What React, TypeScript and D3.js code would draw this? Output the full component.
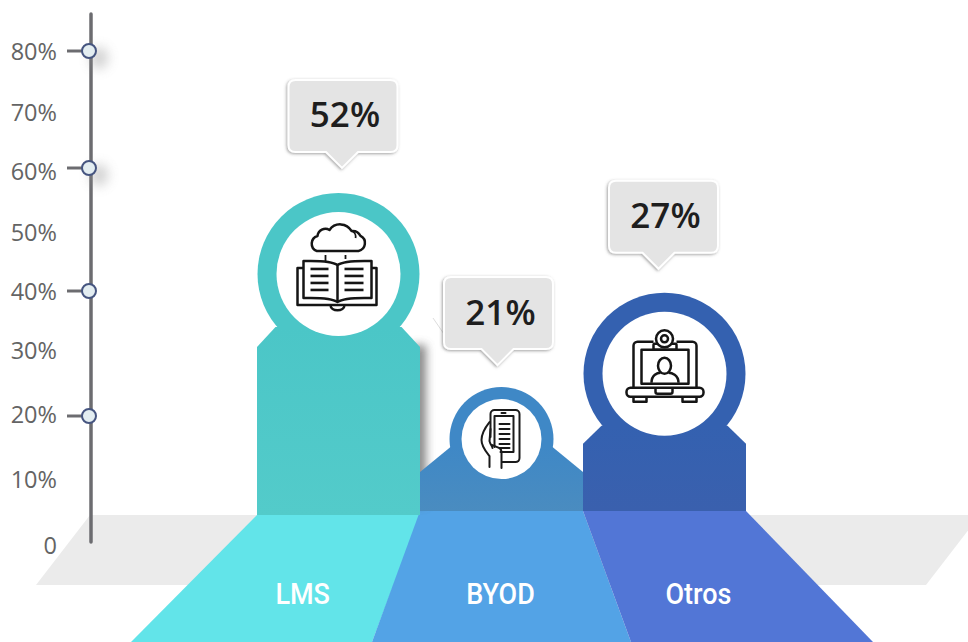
import React from "react";
import { scaleBand, scaleLinear, line as d3_line } from "d3";

const categories = ["LMS", "BYOD", "Otros"];
const percentages = [52, 21, 27];
// the drawn columns do not follow the printed %, so their tops are read off the axis
const columnTops = [56.4, 24.2, 39.7];
const axisTicks = [0, 10, 20, 30, 40, 50, 60, 70, 80];
const knobTicks = [20, 40, 60, 80];

const ringColors = ["#4bc6c7", "#3f88c6", "#3461b0"];
const bodyColors = ["#53cbca", "#4a8cc0", "#3a60ae"];
const floorColors = ["#62e4e9", "#53a3e6", "#5276d6"];

const W = 968;
const H = 642;
const floorTop = 515;

// the axis in the picture is slightly uneven, hence the piecewise range
const y = scaleLinear()
  .domain(axisTicks)
  .range([545, 479, 414, 350, 291, 232, 171, 112, 51]);
const x = scaleBand().domain(categories).range([257, 746]).padding(0);
// spread of the column edges once they reach the bottom of the page
const spread = scaleLinear().domain([257, 420, 583, 746]).range([131, 372, 631, 873]);

const ringR = { LMS: 81, BYOD: 52, Otros: 81 };
const innerR = { LMS: 62, BYOD: 40, Otros: 62 };
const shoulder = { LMS: { dy: 73, nx: 63, ny: 53 }, BYOD: { dy: 33, nx: 51, ny: 8 }, Otros: { dy: 70, nx: 63, ny: 52 } };
const bubbleNudge = { LMS: 4.5, BYOD: -3, Otros: -1 };
const bubbleGap = { LMS: 41, BYOD: 38, Otros: 40 };
const tipNudge = { LMS: -1, BYOD: -1, Otros: -5 };
const knobNudge = { 20: 2, 40: 0, 60: -3, 80: 0 };

const line = d3_line();

function BookIcon() {
  const rows = [-5, 2, 9, 16];
  return (
    <g fill="none" stroke="#151515" strokeWidth={2.5} strokeLinejoin="round">
      <path d="M-22,-23 H20 A8,8 0 0 0 22,-38 A9,9 0 0 0 13,-43 A13,13 0 0 0 -9,-44 A8,8 0 0 0 -21,-38 A8,8 0 0 0 -22,-23 Z" />
      <path d="M13,-43 A6,6 0 0 1 17,-36 M-13,-19 V-13 M7,-19 V-15" strokeWidth={1.8} />
      <path d="M-35,-6 H-41 V31 H38 V-6 H33" />
      <path d="M-1,-9 C-8,-14 -25,-13 -35,-13 V24 C-25,24 -8,23 -1,28 C6,23 23,24 33,24 V-13 C23,-13 6,-14 -1,-9 Z" />
      <path d="M-1,-9 V28 M-8,31 C-8,38 6,38 6,31" />
      {rows.map((r) => (
        <g key={r} strokeWidth={2.6}>
          <path d={`M-28,${r} H-10`} />
          <path d={`M6,${r} H25`} />
        </g>
      ))}
    </g>
  );
}

function PhoneIcon() {
  const rows = [-15, -10, -5, 0, 5, 9];
  return (
    <g fill="none" stroke="#1a1a1a" strokeWidth={2} strokeLinejoin="round" strokeLinecap="round">
      <path d="M-11,-2 V-25 A4,4 0 0 1 -7,-29 H14 A4,4 0 0 1 18,-25 V19 A4,4 0 0 1 14,23 H1" />
      <path d="M-7,8 V-23 H12 V13 H-1" />
      <path d="M0,-26 H4" />
      {rows.map((r) => (
        <path key={r} d={`M-2,${r} H8`} />
      ))}
      <path d="M-12,-17 C-16,-12 -20,-6 -20,1 C-20,8 -15,13 -12,17 L-12,28" />
      <path d="M-11,-10 L-12,2 C-11,6 -9,7 -9,9 M-9,6 L-2,9 C0,10 0,12 0,14 V29" />
    </g>
  );
}

function LaptopIcon() {
  return (
    <g fill="none" stroke="#151515" strokeWidth={2.5} strokeLinejoin="round">
      <path d="M-11,-32 H-27 A4,4 0 0 0 -31,-28 V14 M12,-32 H28 A4,4 0 0 1 32,-28 V14" />
      <rect x={-23} y={-24} width={47} height={34} />
      <rect x={-11} y={-30} width={23} height={6} rx={1} />
      <circle cx={0} cy={-35} r={8.5} fill="#fff" />
      <circle cx={0} cy={-35} r={3.5} />
      <ellipse cx={0} cy={-8} rx={6.5} ry={8} />
      <path d="M-13,9 C-13,1 -7,-1 -4,-1 M14,9 C14,1 7,-1 4,-1" />
      <rect x={-38} y={14} width={77} height={9} rx={4} />
      <path d="M-9,14 V18 A2,2 0 0 0 -7,20 H6 A2,2 0 0 0 8,18 V14" />
      <path d="M-31,23 V28 H-18 V23 M18,23 V28 H32 V23" />
    </g>
  );
}

const icons = { LMS: <BookIcon />, BYOD: <PhoneIcon />, Otros: <LaptopIcon /> };

function Column({ name, i }: { name: string; i: number }) {
  const x0 = x(name)!;
  const x1 = x0 + x.bandwidth();
  const cx = (x0 + x1) / 2;
  const r = ringR[name];
  const top = y(columnTops[i]);
  const cy = top + r;
  const s = shoulder[name];
  const base = name === "LMS" ? floorTop : floorTop - 4;
  const body = line([
    [x0, base],
    [x0, cy + s.dy],
    [cx - s.nx, cy + s.ny],
    [cx + s.nx, cy + s.ny],
    [x1, cy + s.dy],
    [x1, base],
  ]);
  return (
    <g>
      <linearGradient id={`fade${i}`} gradientUnits="userSpaceOnUse" x1={0} x2={0} y1={cy + s.ny} y2={base}>
        <stop offset="0" stopColor={ringColors[i]} />
        <stop offset="1" stopColor={bodyColors[i]} />
      </linearGradient>
      <circle cx={cx} cy={cy} r={r} fill={ringColors[i]} />
      <path d={body + "Z"} fill={`url(#fade${i})`} />
      <circle cx={cx} cy={cy} r={innerR[name]} fill="#fff" />
      <g transform={`translate(${cx},${cy})`}>{icons[name]}</g>
    </g>
  );
}

function Bubble({ name, i }: { name: string; i: number }) {
  const x0 = x(name)!;
  const cx = x0 + x.bandwidth() / 2 + bubbleNudge[name];
  const bottom = y(columnTops[i]) - bubbleGap[name];
  const top = bottom - 72;
  const hw = 54.5;
  const rad = 7;
  const tip = cx + tipNudge[name];
  const d = `M${cx - hw + rad},${top} H${cx + hw - rad} Q${cx + hw},${top} ${cx + hw},${top + rad}
    V${bottom - rad} Q${cx + hw},${bottom} ${cx + hw - rad},${bottom} H${tip + 16} L${tip},${bottom + 16} L${tip - 16},${bottom}
    H${cx - hw + rad} Q${cx - hw},${bottom} ${cx - hw},${bottom - rad} V${top + rad} Q${cx - hw},${top} ${cx - hw + rad},${top} Z`;
  return (
    <g>
      <path d={d} fill="#e4e4e4" stroke="#fff" strokeWidth={2} filter="url(#bubbleShadow)" />
      <text
        x={cx + 2}
        y={top + 34}
        textAnchor="middle"
        dominantBaseline="central"
        fontFamily="'Open Sans', sans-serif"
        fontWeight={600}
        fontSize={35}
        fill="#1e1e1e"
      >
        {percentages[i]}%
      </text>
    </g>
  );
}

export default function App() {
  const yBottom = 642;
  return (
    <svg width={W} height={H} viewBox={`0 0 ${W} ${H}`} style={{ position: "absolute", left: 0, top: 0, display: "block", background: "#fff" }}>
      <defs>
        <filter id="bubbleShadow" x="-20%" y="-20%" width="140%" height="150%">
          <feDropShadow dx={-1} dy={1} stdDeviation={1.5} floodColor="#555" floodOpacity={0.55} />
        </filter>
        <filter id="soft" x="-200%" y="-20%" width="500%" height="140%">
          <feGaussianBlur stdDeviation={5} />
        </filter>
        <filter id="knobShadow" x="-150%" y="-150%" width="400%" height="400%">
          <feGaussianBlur stdDeviation={6} />
        </filter>
      </defs>

      {/* piso */}
      <path d={line([[90, floorTop], [980, floorTop], [926, 585], [36, 585]]) + "Z"} fill="#ebebeb" />

      {/* franjas del piso */}
      {categories.map((name, i) => {
        const x0 = x(name)!;
        const x1 = x0 + x.bandwidth();
        const t = name === "LMS" ? floorTop : floorTop - 4;
        return (
          <path
            key={name}
            d={line([[x0, t], [x1, t], [spread(x1), yBottom], [spread(x0), yBottom]]) + "Z"}
            fill={floorColors[i]}
          />
        );
      })}

      {/* sombra de la columna LMS */}
      <rect x={x("LMS")! + x.bandwidth() - 8} y={345} width={14} height={160} fill="#555" opacity={0.7} filter="url(#soft)" />
      <path d={line([[433, 318], [444, 334]])!} stroke="#ddd" strokeWidth={1} fill="none" />

      <Column name="BYOD" i={1} />
      <Column name="LMS" i={0} />
      <Column name="Otros" i={2} />

      {/* eje Y */}
      <line x1={91} x2={91} y1={14} y2={542} stroke="#6c6c70" strokeWidth={3.5} strokeLinecap="round" />
      {axisTicks.map((t) => (
        <text
          key={t}
          x={57}
          y={y(t)}
          textAnchor="end"
          dominantBaseline="central"
          fontFamily="'Open Sans', sans-serif"
          fontSize={23.5}
          fill="#646464"
        >
          {t === 0 ? "0" : `${t}%`}
        </text>
      ))}
      {knobTicks.map((t) => {
        const ky = y(t) + knobNudge[t];
        return (
          <g key={t}>
            {t >= 60 && <ellipse cx={99} cy={ky + 7} rx={9} ry={11} fill="#999" opacity={0.45} filter="url(#knobShadow)" />}
            <line x1={67} x2={84} y1={ky} y2={ky} stroke="#6c6c70" strokeWidth={3} />
            <circle cx={89} cy={ky} r={7} fill="#e3edf1" stroke="#465580" strokeWidth={2} />
          </g>
        );
      })}

      {categories.map((name, i) => (
        <Bubble key={name} name={name} i={i} />
      ))}

      {/* etiquetas */}
      {categories.map((name) => {
        const x0 = x(name)!;
        const x1 = x0 + x.bandwidth();
        const top = (x0 + x1) / 2;
        const bottom = (spread(x0) + spread(x1)) / 2;
        const lx = top + (bottom - top) * 0.4 - 1;
        return (
          <text
            key={name}
            transform={`translate(${lx},594) scale(0.9,1)`}
            textAnchor="middle"
            dominantBaseline="central"
            fontFamily="Roboto, sans-serif"
            fontWeight={500}
            fontSize={30}
            fill="#fff"
          >
            {name}
          </text>
        );
      })}
    </svg>
  );
}
